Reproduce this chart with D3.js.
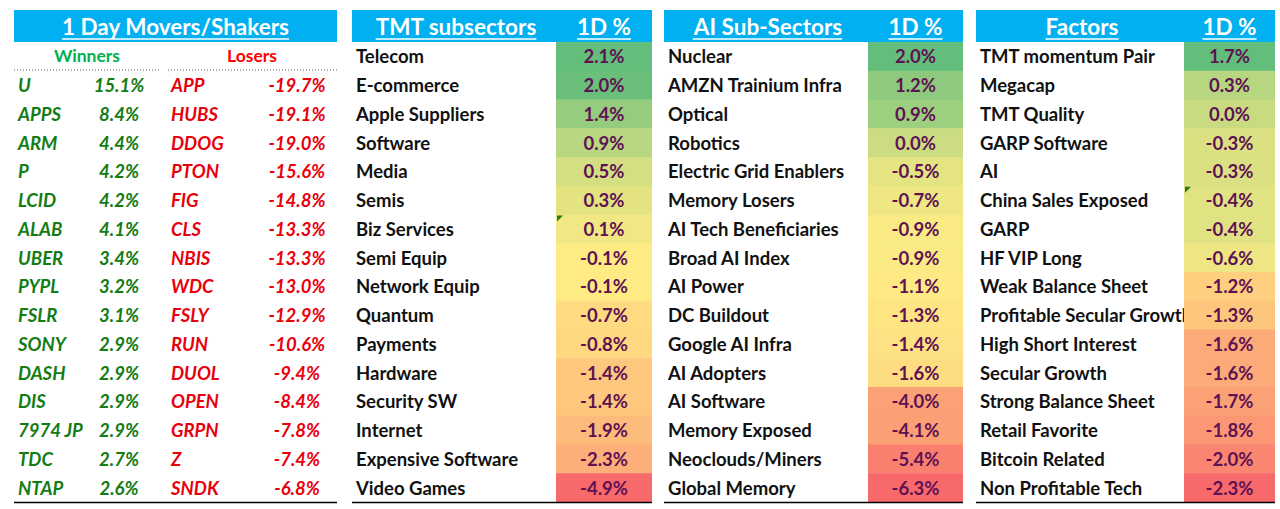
<!DOCTYPE html>
<html><head><meta charset="utf-8">
<script src="https://cdn.jsdelivr.net/npm/d3@7"></script>
<style>
html,body{margin:0;padding:0;background:#fff;}
svg{display:block;font-family:Lato,"Noto Sans",sans-serif;}
</style></head>
<body>
<svg id="c" width="1280" height="509"></svg>
<script>
// ---- data ----
const winnersTickers = ["U","APPS","ARM","P","LCID","ALAB","UBER","PYPL","FSLR","SONY","DASH","DIS","7974 JP","TDC","NTAP"];
const winnersValues = [15.1,8.4,4.4,4.2,4.2,4.1,3.4,3.2,3.1,2.9,2.9,2.9,2.9,2.7,2.6];
const losersTickers = ["APP","HUBS","DDOG","PTON","FIG","CLS","NBIS","WDC","FSLY","RUN","DUOL","OPEN","GRPN","Z","SNDK"];
const losersValues = [-19.7,-19.1,-19.0,-15.6,-14.8,-13.3,-13.3,-13.0,-12.9,-10.6,-9.4,-8.4,-7.8,-7.4,-6.8];

const tmtNames = ["Telecom","E-commerce","Apple Suppliers","Software","Media","Semis","Biz Services","Semi Equip","Network Equip","Quantum","Payments","Hardware","Security SW","Internet","Expensive Software","Video Games"];
const tmtValues = [2.1,2.0,1.4,0.9,0.5,0.3,0.1,-0.1,-0.1,-0.7,-0.8,-1.4,-1.4,-1.9,-2.3,-4.9];

const aiNames = ["Nuclear","AMZN Trainium Infra","Optical","Robotics","Electric Grid Enablers","Memory Losers","AI Tech Beneficiaries","Broad AI Index","AI Power","DC Buildout","Google AI Infra","AI Adopters","AI Software","Memory Exposed","Neoclouds/Miners","Global Memory"];
const aiValues = [2.0,1.2,0.9,0.0,-0.5,-0.7,-0.9,-0.9,-1.1,-1.3,-1.4,-1.6,-4.0,-4.1,-5.4,-6.3];

const factorNames = ["TMT momentum Pair","Megacap","TMT Quality","GARP Software","AI","China Sales Exposed","GARP","HF VIP Long","Weak Balance Sheet","Profitable Secular Growth","High Short Interest","Secular Growth","Strong Balance Sheet","Retail Favorite","Bitcoin Related","Non Profitable Tech"];
const factorValues = [1.7,0.3,0.0,-0.3,-0.3,-0.4,-0.4,-0.6,-1.2,-1.3,-1.6,-1.6,-1.7,-1.8,-2.0,-2.3];

const headerTitles = ["1 Day Movers/Shakers","TMT subsectors","AI Sub-Sectors","Factors"];
const valueHeader = "1D %";
const commentRows = [{table:0,row:6},{table:2,row:5}];

// ---- layout ----
const svg = d3.select("#c");
const headerTop = 10, headerBottom = 42, tableBottom = 502;
const nRows = 16;
const y = d3.scaleBand().domain(d3.range(nRows)).range([headerBottom, tableBottom]).paddingInner(0);
const BLUE = "#00B0F0";
const VALCOL = "#5E1254";
const fmt = v => v.toFixed(1) + "%";
const base = i => y(i) + y.bandwidth() / 2 + 7;

function underlineText(g, txt, x, yy, size, anchor){
  const t = g.append("text").attr("x", x).attr("y", yy).attr("text-anchor", anchor)
    .attr("fill", "#fff").attr("font-weight", 700).attr("font-size", size).text(txt);
  const bb = t.node().getBBox();
  g.append("line").attr("x1", bb.x).attr("x2", bb.x + bb.width)
    .attr("y1", yy + 4).attr("y2", yy + 4).attr("stroke", "#fff").attr("stroke-width", 1.7);
}

// ---- left panel ----
(function(){
  const x0 = 14, x1 = 337;
  const g = svg.append("g");
  g.append("rect").attr("x", x0).attr("y", headerTop).attr("width", x1 - x0).attr("height", headerBottom - headerTop).attr("fill", BLUE);
  underlineText(g, headerTitles[0], (x0 + x1) / 2, 35, 22.5, "middle");
  const hy = base(0) - 1;
  g.append("text").attr("x", 87).attr("y", hy).attr("text-anchor", "middle").attr("fill", "#00B050")
    .attr("font-weight", 700).attr("font-size", 17.5).text("Winners");
  g.append("text").attr("x", 252).attr("y", hy).attr("text-anchor", "middle").attr("fill", "#FF0000")
    .attr("font-weight", 700).attr("font-size", 17.5).text("Losers");
  g.append("line").attr("x1", 14).attr("x2", 159).attr("y1", 70).attr("y2", 70)
    .attr("stroke", "#666").attr("stroke-width", 1).attr("stroke-dasharray", "1,2");
  g.append("line").attr("x1", 168).attr("x2", 337).attr("y1", 70).attr("y2", 70)
    .attr("stroke", "#666").attr("stroke-width", 1).attr("stroke-dasharray", "1,2");
  const rowY = i => base(i + 1);
  const common = s => s.attr("font-weight", 700).attr("font-style", "italic").attr("font-size", 18.5);
  const GREEN = "#137C13", RED = "#E8000B";
  common(g.selectAll(".wt").data(winnersTickers).join("text").attr("x", 18).attr("y", (d, i) => rowY(i)).attr("fill", GREEN).text(d => d));
  common(g.selectAll(".wv").data(winnersValues).join("text").attr("x", 119).attr("y", (d, i) => rowY(i)).attr("text-anchor", "middle").attr("fill", GREEN).text(fmt));
  common(g.selectAll(".lt").data(losersTickers).join("text").attr("x", 171).attr("y", (d, i) => rowY(i)).attr("fill", RED).text(d => d));
  common(g.selectAll(".lv").data(losersValues).join("text").attr("x", 297).attr("y", (d, i) => rowY(i)).attr("text-anchor", "middle").attr("fill", RED).text(fmt));
  g.append("line").attr("x1", x0).attr("x2", x1).attr("y1", tableBottom + 0.5).attr("y2", tableBottom + 0.5).attr("stroke", "#000").attr("stroke-width", 1.5);
})();

// ---- heat tables ----
const tables = [
  {names: tmtNames, values: tmtValues, x0: 352, xv: 556, x1: 652, title: headerTitles[1]},
  {names: aiNames, values: aiValues, x0: 664, xv: 868, x1: 963, title: headerTitles[2]},
  {names: factorNames, values: factorValues, x0: 976, xv: 1184, x1: 1275, title: headerTitles[3]}
];

tables.forEach((t, ti) => {
  const g = svg.append("g");
  const sorted = t.values.slice().sort(d3.ascending);
  const color = d3.scaleLinear()
    .domain([d3.min(t.values), d3.median(sorted), d3.max(t.values)])
    .range(["#F8696B", "#FFEB84", "#63BE7B"]).interpolate(d3.interpolateRgb);
  g.append("rect").attr("x", t.x0).attr("y", headerTop).attr("width", t.x1 - t.x0).attr("height", headerBottom - headerTop).attr("fill", BLUE);
  underlineText(g, t.title, (t.x0 + t.xv) / 2 + 2, 35, 22.5, "middle");
  underlineText(g, valueHeader, (t.xv + t.x1) / 2, 35, 22.5, "middle");
  const clipId = "clip" + ti;
  svg.append("clipPath").attr("id", clipId).append("rect").attr("x", t.x0).attr("y", headerBottom).attr("width", t.xv - t.x0).attr("height", tableBottom - headerBottom);
  g.selectAll(".cell").data(t.values).join("rect")
    .attr("x", t.xv).attr("y", (d, i) => y(i)).attr("width", t.x1 - t.xv).attr("height", y.bandwidth() + 0.5)
    .attr("fill", d => color(d));
  g.append("g").attr("clip-path", `url(#${clipId})`).selectAll("text").data(t.names).join("text")
    .attr("x", t.x0 + 4).attr("y", (d, i) => base(i))
    .attr("font-weight", 700).attr("font-size", 18.5).attr("fill", "#111").text(d => d);
  g.selectAll(".val").data(t.values).join("text")
    .attr("x", (t.xv + t.x1) / 2).attr("y", (d, i) => base(i))
    .attr("text-anchor", "middle").attr("font-weight", 700).attr("font-size", 18.5).attr("fill", VALCOL).text(fmt);
  g.append("line").attr("x1", t.x0).attr("x2", t.x1).attr("y1", tableBottom + 0.5).attr("y2", tableBottom + 0.5).attr("stroke", "#000").attr("stroke-width", 1.5);
  commentRows.filter(c => c.table === ti).forEach(c => {
    const cx = t.xv + 1, cy = y(c.row) + 1;
    g.append("path").attr("d", `M${cx},${cy}L${cx + 6},${cy}L${cx},${cy + 6}Z`).attr("fill", "#1E7B1E");
  });
});
</script>
</body></html>
